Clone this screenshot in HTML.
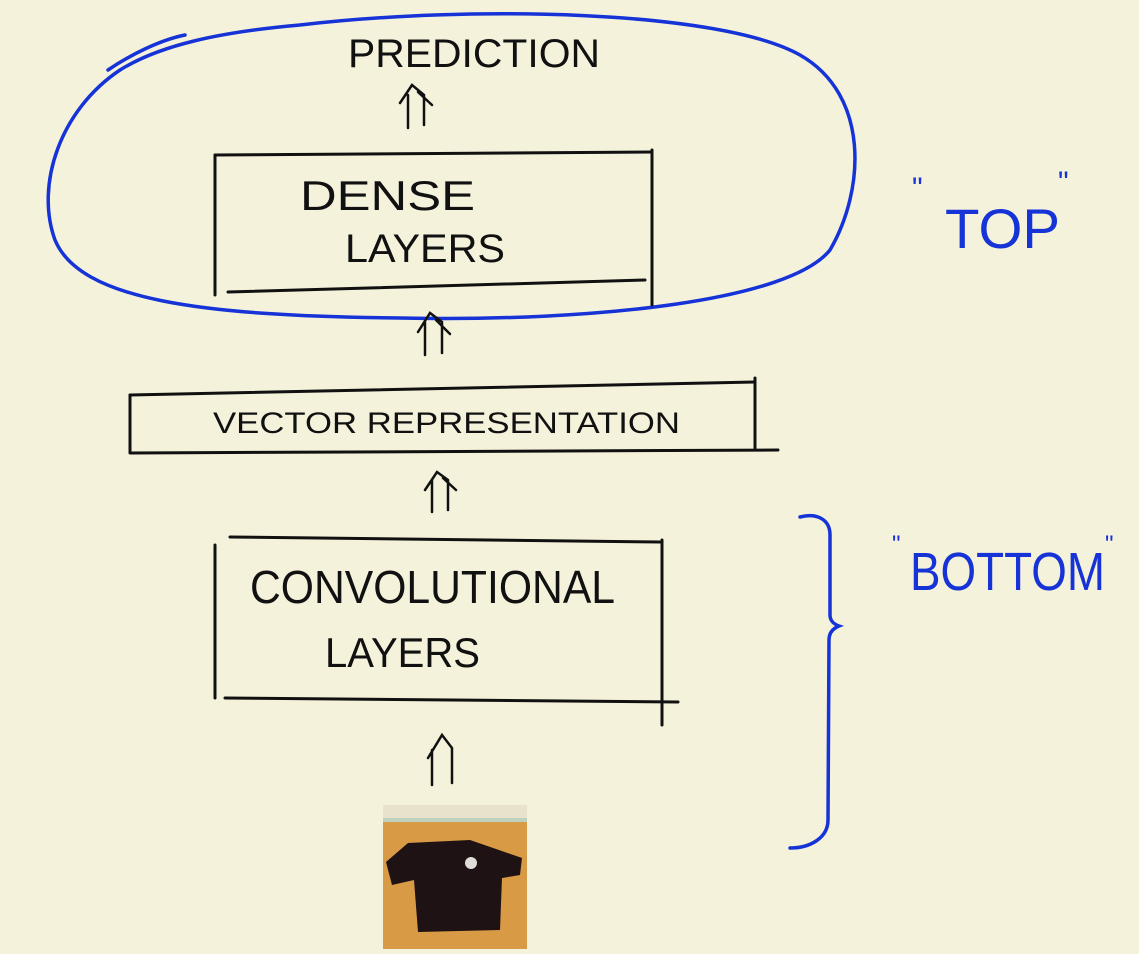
<!DOCTYPE html>
<html><head><meta charset="utf-8"><style>
html,body{margin:0;padding:0;background:#f5f2dc;}
svg{display:block;}
text{font-family:"Liberation Sans",sans-serif;}
</style></head><body>
<svg width="1139" height="954" viewBox="0 0 1139 954" xmlns="http://www.w3.org/2000/svg">
<rect width="1139" height="954" fill="#f5f2dc"/>
<g fill="none" stroke="#1533d6" stroke-width="3.5" stroke-linecap="round">
<path d="M300 25 C470 5 720 10 800 55 C870 95 865 190 830 250 C790 300 600 322 400 318 C200 316 80 300 55 240 C35 185 60 110 120 70 C160 45 220 32 300 25"/>
<path d="M108 70 C130 55 160 40 185 35"/>
<path d="M800 517 C815 513 830 518 830 535 L830 615 C830 622 836 625 839 626 C834 628 829 632 829 640 L828 820 C828 838 810 848 790 848"/>
</g>
<g fill="none" stroke="#111" stroke-width="3" stroke-linecap="round">
<path d="M215 155 L215 295"/><path d="M215 155 L652 152"/><path d="M652 150 L652 305"/><path d="M228 292 L645 280"/>
<path d="M130 395 L130 452"/><path d="M130 395 L755 382"/><path d="M755 378 L755 448"/><path d="M130 453 L778 450"/>
<path d="M215 545 L215 698"/><path d="M230 537 L660 542"/><path d="M662 540 L662 725"/><path d="M225 698 L678 702"/>
<g stroke-width="2.5">
<path d="M408 128 L408 95 M400 103 L412 85 L424 95 L424 125 M418 92 L432 105"/>
<path d="M425 355 L425 322 M418 332 L430 313 L442 322 L442 353 M436 320 L450 334"/>
<path d="M432 512 L432 480 M425 490 L437 472 L448 480 L448 510 M443 478 L456 490"/>
<path d="M432 785 L432 750 M428 758 L442 735 L452 748 L452 783"/>
</g></g>
<g fill="#111">
<text x="348" y="67" font-size="40" textLength="252" lengthAdjust="spacingAndGlyphs">PREDICTION</text>
<text x="300" y="210" font-size="42" textLength="175" lengthAdjust="spacingAndGlyphs">DENSE</text>
<text x="345" y="262" font-size="40" textLength="160" lengthAdjust="spacingAndGlyphs">LAYERS</text>
<text x="213" y="433" font-size="30" textLength="467" lengthAdjust="spacingAndGlyphs">VECTOR REPRESENTATION</text>
<text x="250" y="603" font-size="46" textLength="365" lengthAdjust="spacingAndGlyphs">CONVOLUTIONAL</text>
<text x="325" y="667" font-size="42" textLength="155" lengthAdjust="spacingAndGlyphs">LAYERS</text>
</g>
<g fill="#1533d6">
<text x="912" y="198" font-size="30">"</text>
<text x="945" y="248" font-size="56" textLength="115" lengthAdjust="spacingAndGlyphs">TOP</text>
<text x="1058" y="192" font-size="30">"</text>
<text x="892" y="552" font-size="24">"</text>
<text x="910" y="590" font-size="54" textLength="195" lengthAdjust="spacingAndGlyphs">BOTTOM</text>
<text x="1105" y="552" font-size="24">"</text>
</g>
<g>
<rect x="383" y="805" width="144" height="144" fill="#d89a45"/>
<rect x="383" y="805" width="144" height="15" fill="#e8e2cc"/>
<rect x="383" y="818" width="144" height="4" fill="#bfd0c0"/>
<path d="M388 775" fill="none"/>
<path d="M408 843 L470 840 L522 858 L520 875 L502 878 L500 930 L418 932 L414 880 L392 885 L386 862 Z" fill="#1e1214"/>
<circle cx="471" cy="863" r="6" fill="#e0dcd8"/>
</g>
</svg>
</body></html>
